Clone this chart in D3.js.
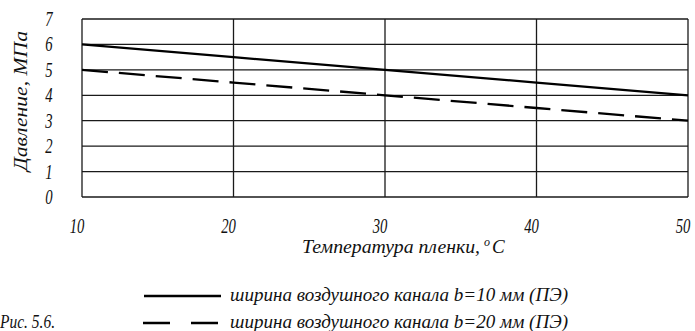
<!DOCTYPE html>
<html lang="ru">
<head>
<meta charset="UTF-8">
<title>Рис. 5.6</title>
<script src="https://d3js.org/d3.v7.min.js"></script>
<style>
    html, body { margin: 0; padding: 0; background: #fff; }
    svg { display: block; }
    .lbl { font-family: "Liberation Serif", Tinos, "Times New Roman", "DejaVu Serif", "Noto Serif", serif; font-style: italic; fill: #111; }
    .grid line { stroke: #1a1a1a; stroke-width: 1.3; }
</style>
</head>
<body>
<svg id="chart" width="695" height="331"></svg>
<script>
    // data
    const temps = [10, 20, 30, 40, 50];
    const press10 = [6, 5.5, 5, 4.5, 4];   // b=10 мм
    const press20 = [5, 4.5, 4, 3.5, 3];   // b=20 мм
    const xTicks = [10, 20, 30, 40, 50];
    const yTicks = [0, 1, 2, 3, 4, 5, 6, 7];
    const legendNames = ["ширина воздушного канала b=10 мм (ПЭ)", "ширина воздушного канала b=20 мм (ПЭ)"];

    const svg = d3.select("#chart");
    const plotL = 82, plotR = 688, plotT = 19, plotB = 197;

    const x = d3.scaleLinear().domain([10, 50]).range([plotL, plotR]);
    const y = d3.scaleLinear().domain([0, 7]).range([plotB, plotT]);

    // grid
    const grid = svg.append("g").attr("class", "grid");
    grid.selectAll(".h").data(yTicks).enter().append("line")
        .attr("x1", plotL).attr("x2", plotR)
        .attr("y1", d => y(d)).attr("y2", d => y(d));
    grid.selectAll(".v").data(xTicks).enter().append("line")
        .attr("y1", plotT).attr("y2", plotB)
        .attr("x1", d => x(d)).attr("x2", d => x(d));

    // tick labels (condensed italic)
    svg.selectAll(".yt").data(yTicks).enter().append("text")
        .attr("class", "lbl")
        .attr("text-anchor", "middle")
        .attr("font-size", 21)
        .attr("transform", d => `translate(49,${y(d) + 7}) scale(0.7,1)`)
        .text(d => d);
    svg.selectAll(".xt").data(xTicks).enter().append("text")
        .attr("class", "lbl")
        .attr("text-anchor", "middle")
        .attr("font-size", 21)
        .attr("transform", d => `translate(${x(d) - 5},233) scale(0.7,1)`)
        .text(d => d);

    // axis titles
    svg.append("text").attr("class", "lbl")
        .attr("font-size", 19)
        .attr("text-anchor", "middle")
        .attr("transform", "translate(27,101) rotate(-90)")
        .attr("textLength", 140).attr("lengthAdjust", "spacingAndGlyphs")
        .text("Давление, МПа");

    const xt = svg.append("text").attr("class", "lbl")
        .attr("font-size", 19)
        .attr("x", 302).attr("y", 253);
    xt.append("tspan").attr("textLength", 178).attr("lengthAdjust", "spacingAndGlyphs")
        .text("Температура пленки,");
    xt.append("tspan").attr("font-size", 12).attr("dx", 4).attr("dy", -7).text("o");
    xt.append("tspan").attr("dx", 2).attr("dy", 7).text("C");

    // curves
    const line = d3.line().x(d => x(d[0])).y(d => y(d[1]));
    const series = [
        { vals: press10, dash: null },
        { vals: press20, dash: "26,11" }
    ];
    svg.selectAll(".curve").data(series).enter().append("path")
        .attr("fill", "none")
        .attr("stroke", "#000")
        .attr("stroke-width", 2.3)
        .attr("stroke-dasharray", d => d.dash)
        .attr("d", d => line(temps.map((t, i) => [t, d.vals[i]])));

    // legend
    const legY = [296, 323];
    svg.append("line").attr("x1", 144).attr("x2", 221).attr("y1", legY[0]).attr("y2", legY[0])
        .attr("stroke", "#000").attr("stroke-width", 2.6);
    svg.append("line").attr("x1", 143).attr("x2", 219).attr("y1", legY[1]).attr("y2", legY[1])
        .attr("stroke", "#000").attr("stroke-width", 2.6).attr("stroke-dasharray", "27,21");
    legendNames.forEach((n, i) => {
        svg.append("text").attr("class", "lbl")
            .attr("font-size", 18)
            .attr("x", 230).attr("y", legY[i] + 5)
            .attr("textLength", 338).attr("lengthAdjust", "spacingAndGlyphs")
            .text(n);
    });
    svg.append("text").attr("class", "lbl")
        .attr("font-size", 18)
        .attr("x", 0).attr("y", 328)
        .attr("textLength", 55).attr("lengthAdjust", "spacingAndGlyphs")
        .text("Рис. 5.6.");
</script>
</body>
</html>
